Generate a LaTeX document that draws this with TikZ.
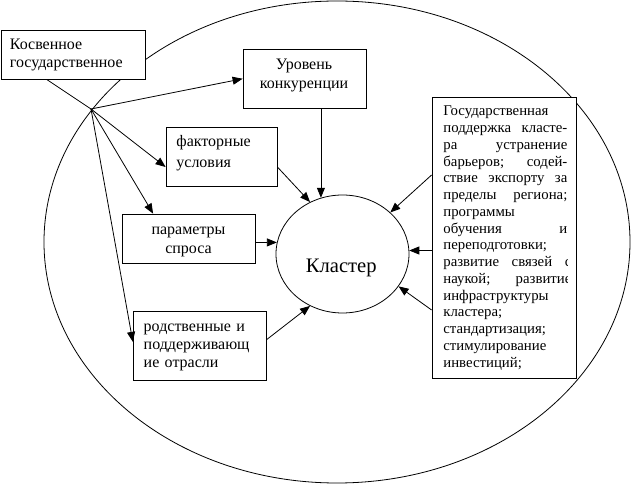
\documentclass[tikz,border=0pt]{standalone}
\usepackage{fontspec}
\setmainfont{Liberation Serif}
\usetikzlibrary{arrows.meta,calc,shapes.geometric}
\newcommand\jline[2][124pt]{\leavevmode\hbox to #1{#2}}
\begin{document}
\begin{tikzpicture}[x=1pt,y=-1pt,
  line width=0.8pt,
  box/.style={draw, fill=white, inner sep=0pt},
  txt/.style={inner sep=0pt, align=left, anchor=base west},
  ctxt/.style={inner sep=0pt, align=center, anchor=base},
  arr/.style={-{Triangle[length=10pt,width=8pt]}},
]
\useasboundingbox (0,0) rectangle (633,486);
\draw (337,242) ellipse [x radius=293pt, y radius=241pt];

% boxes
\node[box, minimum width=144pt, minimum height=49pt] (ks) at (73,54.5) {};
\node[box, minimum width=123pt, minimum height=59.5pt] (ur) at (304.5,78.75) {};
\node[box, minimum width=111pt, minimum height=59pt] (fk) at (221.5,156.5) {};
\node[box, minimum width=132.5pt, minimum height=49.3pt] (ps) at (188.75,238.65) {};
\node[box, minimum width=132.7pt, minimum height=69.7pt] (rs) at (199.6,345.85) {};
\node[box, minimum width=144pt, minimum height=281pt] (gs) at (504,237.5) {};

% texts
\node[txt, text width=130pt, font=\fontsize{16}{18}\selectfont] (kst) at (9.5,50) {Косвенное\\государственное};
\node[ctxt, text width=123pt, font=\fontsize{16}{19}\selectfont] (urt) at (304,70) {Уровень\\конкуренции};
\node[txt, text width=95pt, font=\fontsize{16}{20.3}\selectfont] (fkt) at (176,147) {факторные\\условия};
\node[ctxt, text width=132pt, font=\fontsize{16}{19}\selectfont] (pst) at (188.5,235) {параметры\\спроса};
\node[txt, text width=120pt, font=\fontsize{16}{18}\selectfont] (rst) at (143.3,331.5) {родственные и\\поддерживающ\\ие отрасли};

\begin{scope}
\clip (433,98) rectangle (567.5,377);
\node[txt, text width=132pt, font=\fontsize{14.8}{16.77}\selectfont] (gst) at (443,115.7) {%
Государственная\\
\jline{поддержка\hfill класте-}\\
\jline{ра\hfill устранение}\\
\jline{барьеров;\hfill содей-}\\
\jline{ствие\hfill экспорту\hfill за}\\
\jline{пределы\hfill региона;}\\
программы\\
\jline{обучения\hfill и}\\
переподготовки;\\
\jline[128pt]{развитие\hfill связей\hfill с}\\
\jline[128pt]{наукой;\hfill развитие}\\
инфраструктуры\\
кластера;\\
стандартизация;\\
стимулирование\\
инвестиций;};
\end{scope}

\node[draw, ellipse, minimum width=133pt, minimum height=118pt, inner sep=0pt] (kl) at (342.5,254) {};
\node[ctxt, font=\fontsize{20.6}{24}\selectfont] (klt) at (341.3,272.3) {Кластер};

% connectors
\coordinate (hub) at (91,109);
\draw ($(ks.south west)+(46,0)$) -- (hub);
\draw[arr] (hub) -- (ur.west);
\draw[arr] (hub) -- ($(fk.west)+(0,10.5)$);
\draw[arr] (hub) -- ($(ps.north west)+(31,0)$);
\draw[arr] (hub) -- ($(rs.west)+(0,-4)$);

\draw[arr] (kl.111 |- ur.south) -- (kl.111);
\draw[arr] ($(fk.east)+(0,10.5)$) -- (kl.122);
\draw[arr] (ps.east |- kl.170) -- (kl.170);
\draw[arr] ($(rs.east)+(0,-6)$) -- (kl.238);
\draw[arr] ($(gs.west)+(0,-62.5)$) -- (kl.41);
\draw[arr] (gs.west |- kl.3.5) -- (kl.3.5);
\draw[arr] ($(gs.west)+(0,72.5)$) -- (kl.-30);
\end{tikzpicture}
\end{document}
